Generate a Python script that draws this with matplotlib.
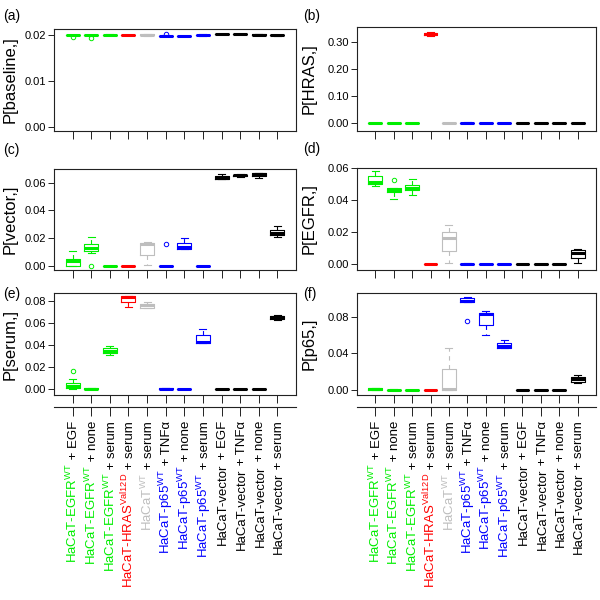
import numpy as np
import matplotlib
matplotlib.use("Agg")
import matplotlib.pyplot as plt
from matplotlib import transforms

plt.rcParams["font.family"] = ["Liberation Sans", "DejaVu Sans"]
plt.rcParams["mathtext.fontset"] = "custom"
plt.rcParams["mathtext.rm"] = "Liberation Sans"
plt.rcParams["mathtext.it"] = "Liberation Sans:italic"
plt.rcParams["mathtext.bf"] = "Liberation Sans:bold"

# 12 condições (linhagem + tratamento)
cell_lines = ([r"HaCaT-EGFR$^{\mathrm{WT}}$"] * 3
              + [r"HaCaT-HRAS$^{\mathrm{Val12D}}$", r"HaCaT$^{\mathrm{WT}}$"]
              + [r"HaCaT-p65$^{\mathrm{WT}}$"] * 3
              + ["HaCaT-vector"] * 4)
treatments = ["EGF", "none", "serum", "serum", "serum", "TNFα",
              "none", "serum", "EGF", "TNFα", "none", "serum"]
line_colors = ["#00ee00"] * 3 + ["#ff0000", "#bebebe"] + ["#0000ff"] * 3 + ["#000000"] * 4

# resumo dos boxplots: (whislo, q1, mediana, q3, whishi)
Z = (0.0, 0.0, 0.0, 0.0, 0.0)
baseline_stats = [
    (0.01990, 0.01993, 0.01996, 0.01999, 0.02002),
    (0.01990, 0.01993, 0.01996, 0.01999, 0.02002),
    (0.02002, 0.02005, 0.02007, 0.02009, 0.02011),
    (0.01999, 0.02002, 0.02004, 0.02006, 0.02008),
    (0.01980, 0.01990, 0.02000, 0.02020, 0.02030),
    (0.01970, 0.01975, 0.01980, 0.01988, 0.01994),
    (0.01972, 0.01976, 0.01979, 0.01983, 0.01987),
    (0.01985, 0.01990, 0.02000, 0.02010, 0.02016),
    (0.02013, 0.02016, 0.02020, 0.02023, 0.02026),
    (0.02018, 0.02021, 0.02025, 0.02028, 0.02031),
    (0.02002, 0.02005, 0.02008, 0.02011, 0.02014),
    (0.01987, 0.01990, 0.01993, 0.01996, 0.01999),
]
baseline_fliers = {0: [0.01950], 1: [0.01942], 5: [0.02032]}

hras_stats = [
    (0.0, 0.0, 0.0003, 0.0006, 0.0012), Z, Z,
    (0.321, 0.326, 0.330, 0.334, 0.338), Z,
    (0.0, 0.0005, 0.001, 0.002, 0.006), Z, Z,
    Z, Z, Z, Z,
]
hras_fliers = {}

vector_stats = [
    (0.0, 0.0, 0.0034, 0.0048, 0.0108),
    (0.0089, 0.0104, 0.0130, 0.0154, 0.0210),
    Z, Z,
    (0.0005, 0.0077, 0.0154, 0.0166, 0.0173),
    Z,
    (0.0118, 0.0118, 0.0135, 0.0166, 0.0198),
    Z,
    (0.0627, 0.0627, 0.0636, 0.0651, 0.0665),
    (0.0644, 0.0646, 0.0653, 0.0657, 0.0663),
    (0.0631, 0.0648, 0.0660, 0.0667, 0.0667),
    (0.0207, 0.0219, 0.0239, 0.0260, 0.0287),
]
vector_fliers = {1: [0.0], 5: [0.0154]}

egfr_stats = [
    (0.0492, 0.0506, 0.0517, 0.0552, 0.0583),
    (0.0406, 0.0450, 0.0467, 0.0475, 0.0480),
    (0.0431, 0.0463, 0.0481, 0.0496, 0.0533),
    Z,
    (0.0006, 0.0083, 0.0167, 0.0204, 0.0246),
    (0.0, 0.0, 0.0002, 0.0004, 0.0010),
    Z, Z, Z, Z, Z,
    (0.0010, 0.0042, 0.0073, 0.0088, 0.0096),
]
egfr_fliers = {1: [0.0531]}

serum_stats = [
    (0.0003, 0.0009, 0.0027, 0.0051, 0.0087),
    (0.0, 0.0, 0.0002, 0.0005, 0.0012),
    (0.0304, 0.0322, 0.0346, 0.0373, 0.0388),
    (0.0743, 0.0785, 0.0835, 0.0842, 0.0842),
    (0.0737, 0.0737, 0.0758, 0.0773, 0.0788),
    (0.0, 0.0, 0.0003, 0.0006, 0.0008),
    Z,
    (0.0418, 0.0418, 0.0427, 0.0487, 0.0544),
    Z, Z, Z,
    (0.0626, 0.0635, 0.0650, 0.0662, 0.0670),
]
serum_fliers = {0: [0.0165]}

p65_stats = [
    (0.0, 0.0003, 0.0012, 0.0018, 0.0022),
    (0.0, 0.0, 0.0002, 0.0004, 0.0006),
    Z, Z,
    (0.0, 0.0, 0.0010, 0.0226, 0.0457),
    (0.0957, 0.0957, 0.0975, 0.1005, 0.1016),
    (0.0606, 0.0709, 0.0826, 0.0840, 0.0866),
    (0.0464, 0.0464, 0.0486, 0.0511, 0.0548),
    Z, Z, Z,
    (0.0073, 0.0091, 0.0120, 0.0142, 0.0164),
]
p65_fliers = {5: [0.0752]}

panels = [
    ("(a)", "P[baseline,]", baseline_stats, baseline_fliers, [0, 0.01, 0.02], (-0.0008, 0.0213)),
    ("(b)", "P[HRAS,]", hras_stats, hras_fliers, [0, 0.1, 0.2, 0.3], (-0.028, 0.355)),
    ("(c)", "P[vector,]", vector_stats, vector_fliers, [0, 0.02, 0.04, 0.06], (-0.0031, 0.0699)),
    ("(d)", "P[EGFR,]", egfr_stats, egfr_fliers, [0, 0.02, 0.04, 0.06], (-0.0035, 0.0603)),
    ("(e)", "P[serum,]", serum_stats, serum_fliers, [0, 0.02, 0.04, 0.06, 0.08], (-0.0054, 0.087)),
    ("(f)", "P[p65,]", p65_stats, p65_fliers, [0, 0.04, 0.08], (-0.0055, 0.106)),
]

# posições em pixels (figura 600x600): esquerda, direita, topo, base
W = H = 600.0
boxes_px = [
    (54, 296, 29, 131), (357, 596, 27, 131),
    (54, 296, 169, 270), (357, 596, 168, 270),
    (54, 296, 293, 395), (357, 596, 293, 395),
]
tag_px = [(3, 16), (303, 16), (3, 150), (303, 149), (3, 294), (303, 294)]
ylabel_x_px = [10, 309, 10, 309, 10, 309]

fig = plt.figure(figsize=(6, 6), dpi=100)
spine_color = "#222222"
positions = np.arange(1, len(treatments) + 1)

for (tag, ylabel, stats, fliers, yticks, ylim), (l, r, t, b), (tx, ty), yl_x in zip(
        panels, boxes_px, tag_px, ylabel_x_px):
    ax = fig.add_axes([l / W, 1 - b / H, (r - l) / W, (b - t) / H])
    bstats = []
    for i, (lo, q1, med, q3, hi) in enumerate(stats):
        bstats.append(dict(whislo=lo, q1=q1, med=med, q3=q3, whishi=hi,
                           fliers=fliers.get(i, [])))
    art = ax.bxp(bstats, positions=positions, widths=0.75, capwidths=0.375,
                 boxprops=dict(linewidth=0.8),
                 medianprops=dict(linewidth=2.2, solid_capstyle="butt"),
                 whiskerprops=dict(linewidth=0.8, linestyle=(0, (4, 4))),
                 capprops=dict(linewidth=0.8),
                 flierprops=dict(marker="o", markersize=3.2, markerfacecolor="none",
                                 markeredgewidth=0.7, linestyle="none"))
    for i, c in enumerate(line_colors):
        art["boxes"][i].set_color(c)
        art["medians"][i].set_color(c)
        art["fliers"][i].set_markeredgecolor(c)
        for k in (2 * i, 2 * i + 1):
            art["whiskers"][k].set_color(c)
            art["caps"][k].set_color(c)

    ax.set_xlim(0, 13)
    ax.set_ylim(*ylim)
    ax.set_xticks(positions)
    ax.set_xticklabels([])
    ax.set_yticks(yticks)
    ax.set_yticklabels([f"{v:.2f}" for v in yticks], fontsize=8)
    ax.tick_params(axis="x", direction="out", length=5.5, width=0.7, color=spine_color)
    ax.tick_params(axis="y", direction="out", length=4, width=0.7, pad=1.5, color=spine_color)
    for s in ax.spines.values():
        s.set_linewidth(0.8)
        s.set_color(spine_color)
    ax.set_ylabel(ylabel, fontsize=12, va="center")
    ax.yaxis.set_label_coords((yl_x - l) / (r - l), 0.5)
    fig.text(tx / W, 1 - ty / H, tag, fontsize=10, va="center", ha="left")

# eixo inferior com os rótulos das condições (abaixo de (e) e (f))
for (l, r, t, b) in boxes_px[4:]:
    lab_ax = fig.add_axes([l / W, 1 - 407 / H, (r - l) / W, 0.0001])
    lab_ax.set_xlim(0, 13)
    lab_ax.set_ylim(0, 1)
    for side in ("top", "left", "right"):
        lab_ax.spines[side].set_visible(False)
    lab_ax.spines["bottom"].set_linewidth(0.8)
    lab_ax.spines["bottom"].set_color(spine_color)
    lab_ax.set_yticks([])
    lab_ax.set_xticks(positions)
    lab_ax.set_xticklabels([])
    lab_ax.tick_params(axis="x", direction="out", length=6.5, width=0.7, color=spine_color)
    lab_ax.patch.set_visible(False)

    blend = transforms.blended_transform_factory(lab_ax.transData, fig.transFigure)
    for x, line, treat, c in zip(positions, cell_lines, treatments, line_colors):
        t1 = lab_ax.annotate(" + " + treat, xy=(x, 1 - 421 / H), xycoords=blend,
                             xytext=(3.4, 0), textcoords="offset points",
                             rotation=90, rotation_mode="anchor", ha="right", va="baseline",
                             fontsize=9.5, color="black", annotation_clip=False)
        lab_ax.annotate(line, xy=(x, 0), xycoords=(blend, t1),
                        xytext=(3.4, 0), textcoords="offset points",
                        rotation=90, rotation_mode="anchor", ha="right", va="baseline",
                        fontsize=9.5, color=c, annotation_clip=False)

fig.savefig("out.png", dpi=100)
